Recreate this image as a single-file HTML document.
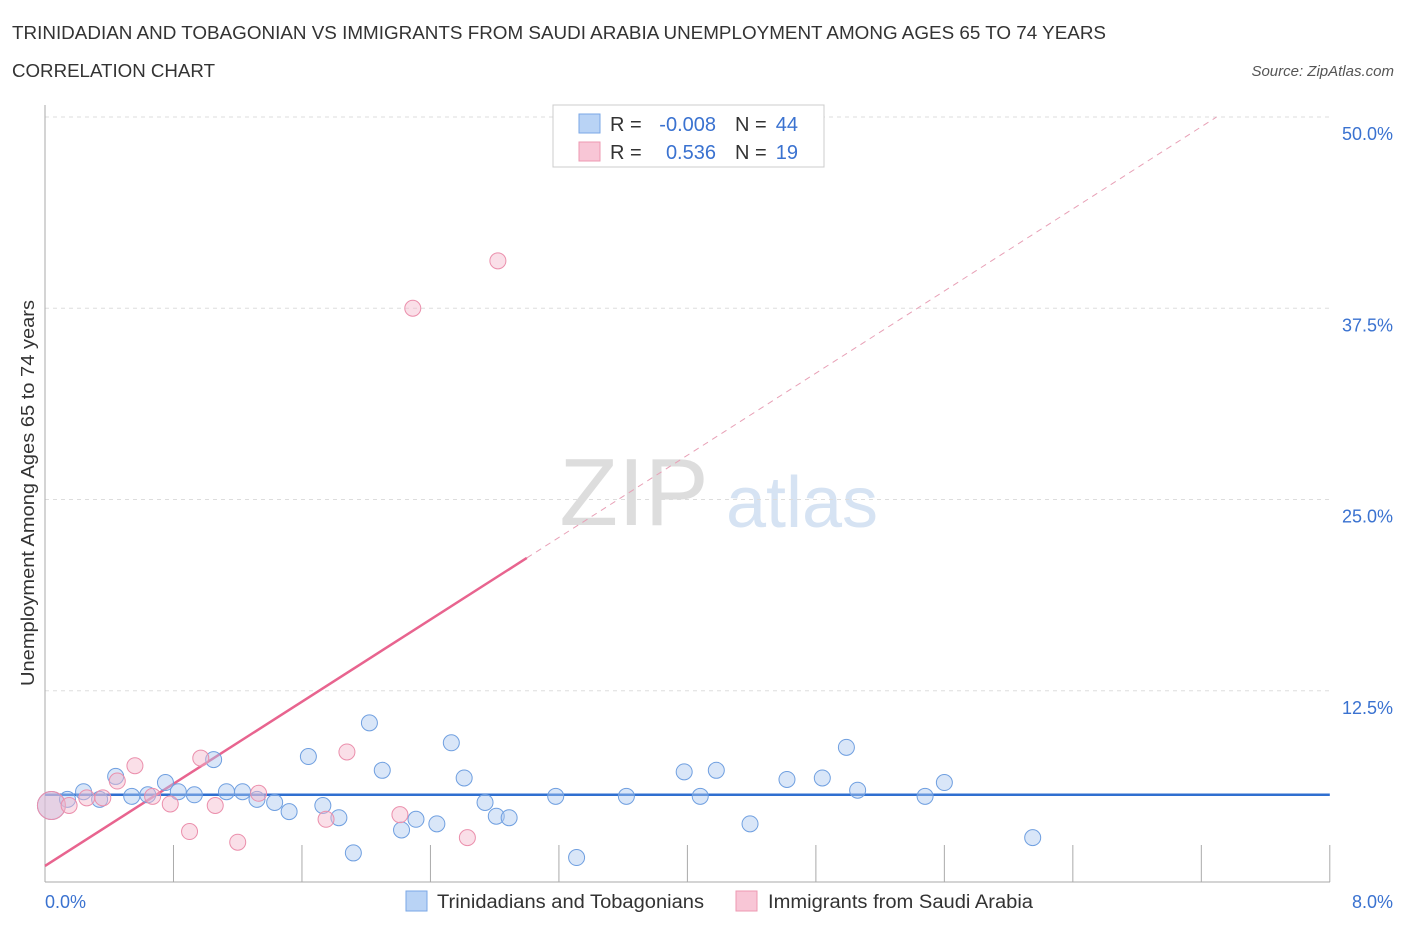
<!DOCTYPE html>
<html><head><meta charset="utf-8"><style>
body{margin:0;background:#fff;font-family:"Liberation Sans",sans-serif;}
svg text{font-family:"Liberation Sans",sans-serif;}
</style></head><body>
<svg width="1406" height="930" xmlns="http://www.w3.org/2000/svg">
<text x="12" y="39" font-size="18" fill="#333" textLength="1094" lengthAdjust="spacingAndGlyphs">TRINIDADIAN AND TOBAGONIAN VS IMMIGRANTS FROM SAUDI ARABIA UNEMPLOYMENT AMONG AGES 65 TO 74 YEARS</text>
<text x="12" y="77" font-size="18" fill="#333" textLength="203" lengthAdjust="spacingAndGlyphs">CORRELATION CHART</text>
<text x="1394" y="76" font-size="15" fill="#555" font-style="italic" text-anchor="end">Source: ZipAtlas.com</text>
<text x="634" y="525" font-size="96" fill="#ddd" font-family="Liberation Serif" text-anchor="middle">ZIP</text>
<text x="802" y="527" font-size="72" fill="#d6e3f3" text-anchor="middle">atlas</text>
<g id="grid"></g>
<g id="axes"></g>
<text transform="translate(34,493) rotate(-90)" font-size="18" fill="#333" text-anchor="middle" textLength="386" lengthAdjust="spacingAndGlyphs">Unemployment Among Ages 65 to 74 years</text>
<g id="lines"></g>
<g id="points"></g>
<g>
<rect x="553" y="105" width="271" height="62" fill="#fff" stroke="#ccc"/>
<rect x="579" y="114" width="21" height="19" fill="#b9d3f5" stroke="#7aa7e6"/>
<rect x="579" y="142" width="21" height="19" fill="#f8c6d6" stroke="#ee98b2"/>
<text x="610" y="131" font-size="20" fill="#333">R =</text>
<text x="716" y="131" font-size="20" fill="#3a72d0" text-anchor="end">-0.008</text>
<text x="735" y="131" font-size="20" fill="#333">N =</text>
<text x="798" y="131" font-size="20" fill="#3a72d0" text-anchor="end">44</text>
<text x="610" y="159" font-size="20" fill="#333">R =</text>
<text x="716" y="159" font-size="20" fill="#3a72d0" text-anchor="end">0.536</text>
<text x="735" y="159" font-size="20" fill="#333">N =</text>
<text x="798" y="159" font-size="20" fill="#3a72d0" text-anchor="end">19</text>
</g>
<g>
<rect x="406" y="891" width="21" height="20" fill="#b9d3f5" stroke="#7aa7e6"/>
<text x="437" y="908" font-size="19" fill="#333" textLength="267" lengthAdjust="spacingAndGlyphs">Trinidadians and Tobagonians</text>
<rect x="736" y="891" width="21" height="20" fill="#f8c6d6" stroke="#ee98b2"/>
<text x="768" y="908" font-size="19" fill="#333" textLength="265" lengthAdjust="spacingAndGlyphs">Immigrants from Saudi Arabia</text>
</g>
</svg>
<script>
const xTicks=[0,0.8,1.6,2.4,3.2,4,4.8,5.6,6.4,7.2,8];
const yTicks=[12.5,25,37.5,50];
const blueX=[0.04,0.14,0.24,0.34,0.44,0.54,0.64,0.75,0.83,0.93,1.05,1.13,1.23,1.32,1.43,1.52,1.64,1.73,1.83,1.92,2.02,2.10,2.22,2.31,2.44,2.53,2.61,2.74,2.81,2.89,3.18,3.31,3.62,3.98,4.08,4.18,4.39,4.62,4.84,4.99,5.06,5.48,5.60,6.15];
const blueY=[5.0,5.4,5.9,5.4,6.9,5.6,5.7,6.5,5.9,5.7,8.0,5.9,5.9,5.4,5.2,4.6,8.2,5.0,4.2,1.9,10.4,7.3,3.4,4.1,3.8,9.1,6.8,5.2,4.3,4.2,5.6,1.6,5.6,7.2,5.6,7.3,3.8,6.7,6.8,8.8,6.0,5.6,6.5,2.9];
const pinkX=[0.04,0.15,0.26,0.36,0.45,0.56,0.67,0.78,0.90,0.97,1.06,1.20,1.33,1.75,1.88,2.21,2.29,2.63,2.82];
const pinkY=[5.0,5.0,5.5,5.5,6.6,7.6,5.6,5.1,3.3,8.1,5.0,2.6,5.8,4.1,8.5,4.4,37.5,2.9,40.6];
const blueFit=[5.7,0.0];
const pinkFit=[1.05,6.71];
const NS='http://www.w3.org/2000/svg';
const X=v=>45+v*160.6, Y=v=>882-v*15.3;
function mk(tag,attrs,parent){const e=document.createElementNS(NS,tag);for(const k in attrs)e.setAttribute(k,attrs[k]);document.getElementById(parent).appendChild(e);return e;}
yTicks.forEach(t=>{
 const l=mk('line',{x1:45,x2:1330,y1:Y(t),y2:Y(t),stroke:'#ddd','stroke-dasharray':'4,4'},'grid');
 
 
 const tx=mk('text',{x:1393,y:Y(t)+23,'font-size':18,fill:'#3a72d0','text-anchor':'end'},'grid');
 tx.textContent=t.toFixed(1)+'%';
 
 
});
const ax=mk('line',{x1:45,x2:45,y1:105,y2:882,stroke:'#aaa'},'axes');


const bx=mk('line',{x1:45,x2:1330,y1:882,y2:882,stroke:'#aaa'},'axes');


xTicks.forEach((t,i)=>{
 if(i==0)return;
 const l=mk('line',{x1:X(t),x2:X(t),y1:845,y2:882,stroke:'#aaa'},'axes');
 
 
});
[[0,'0.0%',45,'start'],[8,'8.0%',1393,'end']].forEach(a=>{
 const tx=mk('text',{x:a[2],y:908,'font-size':18,fill:'#3a72d0','text-anchor':a[3]},'axes');
 tx.textContent=a[1];
 
 
});
const bl=mk('line',{x1:X(0),x2:X(8),y1:Y(blueFit[0]),y2:Y(blueFit[0]+blueFit[1]*8),stroke:'#2f6fd0','stroke-width':2.5},'lines');


const pe=(50-pinkFit[0])/pinkFit[1];
const pd=mk('line',{x1:X(3),x2:X(pe),y1:Y(pinkFit[0]+pinkFit[1]*3),y2:Y(50),stroke:'#e8a0b6','stroke-width':1,'stroke-dasharray':'6,5'},'lines');


const ps=mk('line',{x1:X(0),x2:X(3),y1:Y(pinkFit[0]),y2:Y(pinkFit[0]+pinkFit[1]*3),stroke:'#e8648f','stroke-width':2.5},'lines');


blueX.forEach((x,i)=>{
 const c=mk('circle',{cx:X(x),cy:Y(blueY[i]),r:i==0?14:8,fill:'rgba(170,200,240,0.45)',stroke:'#6f9fe0','stroke-width':1},'points');
 
 
});
pinkX.forEach((x,i)=>{
 const c=mk('circle',{cx:X(x),cy:Y(pinkY[i]),r:i==0?14:8,fill:'rgba(245,185,205,0.45)',stroke:'#eb8fac','stroke-width':1},'points');
 
 
});
</script>
</body></html>
